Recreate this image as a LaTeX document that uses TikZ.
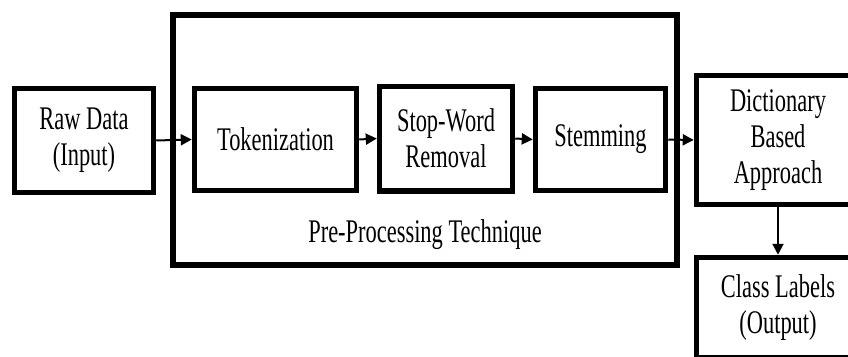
\documentclass[tikz,border=0pt]{standalone}
\usepackage{fontspec}
\setmainfont{Liberation Serif}[FakeStretch=0.68]
\usetikzlibrary{arrows.meta}
\begin{document}
\begin{tikzpicture}[x=1pt,y=-1pt,
  box/.style={draw,line width=5.5pt,line join=miter,rectangle,align=center,
    inner sep=0pt,font=\fontsize{33}{36}\selectfont},
  flow/.style={line width=2pt,-{Triangle[length=11pt,width=11pt]}},
  caption/.style={font=\fontsize{33}{36}\selectfont,inner sep=0pt}]
\useasboundingbox (0,0) rectangle (848,356);
\clip (0,0) rectangle (848,356);
% outer frame of the pre-processing stage
\node[box,minimum width=504pt,minimum height=250pt] (pre) at (425,140) {};
\node[caption,anchor=base] (pretext) at (425,242) {Pre-Processing Technique};
% processing blocks
\node[box,minimum width=139pt,minimum height=104pt] (raw) at (84,140.5) {Raw Data\\(Input)};
\node[box,minimum width=162pt,minimum height=102pt] (tok) at (275.5,139.5) {Tokenization};
\node[box,minimum width=133pt,minimum height=104.5pt] (stop) at (446,138.5) {Stop-Word\\Removal};
\node[box,minimum width=130pt,minimum height=102pt] (stem) at (600.5,139.5) {Stemming};
\node[box,minimum width=163pt,minimum height=129pt] (dict) at (778,140) {Dictionary\\Based\\Approach};
\node[box,minimum width=163pt,minimum height=100pt] (cls) at (778,307.5) {Class Labels\\(Output)};
% connectors
\draw[flow] (raw.east) -- (tok.west);
\draw[flow] (tok.east) -- (stop.west);
\draw[flow] (stop.east) -- (stem.west);
\draw[flow] (stem.east) -- (dict.west);
\draw[flow] (dict.south) -- (cls.north);
\end{tikzpicture}
\end{document}
